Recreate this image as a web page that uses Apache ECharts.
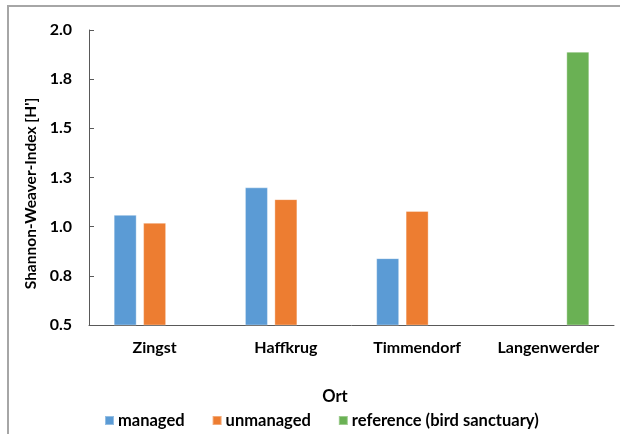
<!DOCTYPE html>
<html>
<head>
<meta charset="utf-8">
<script src="https://cdn.jsdelivr.net/npm/echarts@6/dist/echarts.min.js"></script>
<style>
  html, body { margin: 0; padding: 0; background: #fff; }
  #main { width: 620px; height: 434px; }
</style>
</head>
<body>
<div id="main"></div>
<script>
// data
var orte = ['Zingst', 'Haffkrug', 'Timmendorf', 'Langenwerder'];
var managed = [1.06, 1.20, 0.84, 0];
var unmanaged = [1.02, 1.14, 1.08, 0];
var reference = [0, 0, 0, 1.89];

var font = 'Lato';
var chart = echarts.init(document.getElementById('main'));

function bar(name, data, color) {
  return {
    name: name,
    type: 'bar',
    data: data,
    barWidth: 23,
    barGap: '28%',
    itemStyle: { color: color, borderColor: 'rgba(255,255,255,0.35)', borderWidth: 1 }
  };
}

chart.setOption({
  animation: false,
  textStyle: { fontFamily: font },
  grid: { left: 89, right: 6, top: 30, bottom: 109 },
  graphic: [{
    type: 'rect',
    shape: { x: 8, y: 6, width: 700, height: 500 },
    style: { fill: 'none', stroke: '#a6a6a6', lineWidth: 2 },
    silent: true
  }],
  legend: {
    left: 99,
    top: 407,
    itemWidth: 9,
    itemHeight: 9,
    itemGap: 27,
    icon: 'rect',
    textStyle: { fontFamily: font, fontSize: 16.5, fontWeight: 'bold', color: '#000', padding: [0, 0, 0, -1] },
    data: ['managed', 'unmanaged', 'reference (bird sanctuary)']
  },
  xAxis: {
    type: 'category',
    data: orte,
    name: 'Ort',
    nameLocation: 'middle',
    nameGap: 63,
    nameTextStyle: { fontFamily: font, fontSize: 16.5, fontWeight: 'bold', color: '#000', padding: [0, 33, 0, 0] },
    axisLine: { lineStyle: { color: '#595959', width: 1 } },
    axisTick: { inside: true, length: 5, lineStyle: { color: '#7f7f7f' } },
    axisLabel: { interval: 0, hideOverlap: false, fontFamily: font, fontSize: 16, fontWeight: 'bold', color: '#000', margin: 15 }
  },
  yAxis: {
    type: 'value',
    min: 0.5,
    max: 2.0,
    interval: 0.25,
    name: "Shannon-Weaver-Index [H']",
    nameLocation: 'middle',
    nameGap: 48,
    nameTextStyle: { fontFamily: font, fontSize: 15.5, fontWeight: 'bold', color: '#000', padding: [0, 32, 0, 0] },
    axisLine: { show: true, lineStyle: { color: '#595959', width: 1 } },
    axisTick: { show: true, inside: true, length: 5, lineStyle: { color: '#595959' } },
    splitLine: { show: false },
    axisLabel: {
      fontFamily: font, fontSize: 16, fontWeight: 'bold', color: '#000', margin: 17,
      formatter: function (v) { return v.toFixed(1); }
    }
  },
  series: [
    bar('managed', managed, '#5B9BD5'),
    bar('unmanaged', unmanaged, '#ED7D31'),
    bar('reference (bird sanctuary)', reference, '#6AB154')
  ]
});
</script>
</body>
</html>
